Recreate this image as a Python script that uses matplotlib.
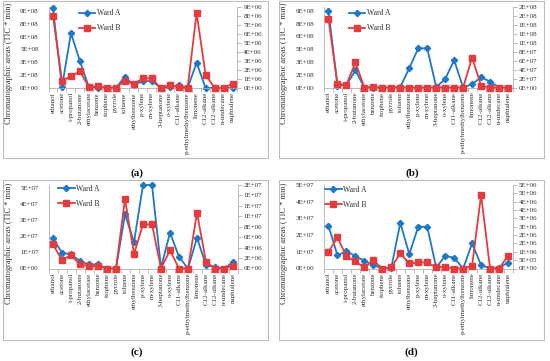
import numpy as np
import matplotlib
matplotlib.use('Agg')
import matplotlib.pyplot as plt
from matplotlib.patches import Rectangle
from matplotlib.ticker import FuncFormatter, FixedLocator

plt.rcParams['font.family'] = ['Liberation Serif', 'DejaVu Serif']

compounds = ['ethanol', 'acetone', 'i-propanol', '2-butanone', 'ethylacetate', 'benzene',
             'tiophene', 'pyrrole', 'toluene', 'ethylbenzene', 'p-xylene', 'm-xylene',
             '3-heptanone', 'o-xylene', 'C11-alkane', 'p-ethylmethylbenzene', 'limonene',
             'C12-alkane', 'C12-alkane', 'n-undecane', 'naphtalene']

# (a) Ward A on left axis, Ward B on right axis
a_ward_a = [9.3e8, 0.1e8, 6.4e8, 3.15e8, 0.1e8, 0, 0, 0, 1.3e8, 0.35e8, 0.8e8, 0.8e8,
            0.05e8, 0.1e8, 0.3e8, 0, 2.96e8, 0, 0, 0, 0]
a_ward_b = [8.0e6, 0.81e6, 1.3e6, 1.85e6, 0.1e6, 0.22e6, 0.05e6, 0.05e6, 0.78e6, 0.44e6,
            1.07e6, 1.07e6, 0, 0.33e6, 0.07e6, 0, 8.33e6, 1.48e6, 0, 0, 0.48e6]

# (b)
b_ward_a = [9.0e8, 0.2e8, 0.3e8, 2.0e8, 0, 0, 0, 0, 0.05e8, 2.27e8, 4.6e8, 4.6e8,
            0.05e8, 1.0e8, 3.2e8, 0, 0.4e8, 1.2e8, 0.7e8, 0, 0]
b_ward_b = [1.53e8, 0.75e7, 0.6e7, 5.6e7, 0, 0.05e7, 0, 0, 0, 0, 0, 0,
            0, 0, 0, 0, 6.7e7, 0.4e7, 0, 0, 0]

# (c)
c_ward_a = [1.88e7, 0.98e7, 0.88e7, 0.46e7, 0.25e7, 0.25e7, 0, 0, 3.38e7, 1.63e7, 5.2e7, 5.2e7,
            0.05e7, 2.23e7, 0.73e7, 0, 1.92e7, 0.2e7, 0.1e7, 0, 0.4e7]
c_ward_b = [4.6e6, 1.6e6, 2.56e6, 0.77e6, 0.45e6, 0.45e6, 0, 0, 13.3e6, 2.76e6, 8.46e6, 8.46e6,
            0, 3.5e6, 0, 0, 10.7e6, 1.28e6, 0, 0, 0.5e6]

# (d)
d_ward_a = [2.56e7, 0.78e7, 1.04e7, 0.74e7, 0.46e7, 0.2e7, 0, 0.05e7, 2.74e7, 0.86e7, 2.5e7, 2.5e7,
            0.06e7, 0.76e7, 0.64e7, 0, 1.5e7, 0.2e7, 0, 0.05e7, 0.34e7]
d_ward_b = [1.0e6, 1.86e6, 0.74e6, 0.42e6, 0.06e6, 0.48e6, 0, 0.08e6, 0.9e6, 0.3e6, 0.36e6, 0.36e6,
            0.06e6, 0.1e6, 0, 0, 0.16e6, 4.42e6, 0, 0, 0.76e6]

blue = '#1f78c4'
red = '#e43b3f'
grey = '#b0b0b0'
txt = '#333333'

W, H = 550, 361


def excel_fmt(v, pos):
    # mimic Excel "0E+00" number format (round half up)
    if v <= 0:
        return '0E+00'
    e = int(np.floor(np.log10(v) + 1e-9))
    r = int(np.floor(v / 10 ** e + 0.5 + 1e-9))
    if r >= 10:
        r = 1
        e += 1
    return f'{r}E{e:+03d}'


def px_rect(l, t, r, b):
    return [l / W, 1 - b / H, (r - l) / W, (b - t) / H]


def panel(fig, rect, ya, yb, lmax, lstep, ltop, rstep, rtop, leg_xy):
    ax = fig.add_axes(px_rect(*rect))
    ax2 = ax.twinx()
    x = np.arange(len(compounds))
    la, = ax.plot(x, ya, color=blue, lw=1.3, marker='D', ms=3.2, label='Ward A', clip_on=False)
    lb, = ax2.plot(x, yb, color=red, lw=1.3, marker='s', ms=3.8, label='Ward B', clip_on=False)

    ax.set_xlim(-0.5, len(compounds) - 0.5)
    ax.set_ylim(0, lmax)
    ax2.set_ylim(0, rtop)
    nl = int(round(ltop / lstep))
    nr = int(round(rtop / rstep))
    ax.yaxis.set_major_locator(FixedLocator([i * lstep for i in range(nl + 1)]))
    ax2.yaxis.set_major_locator(FixedLocator([i * rstep for i in range(nr + 1)]))
    ax.yaxis.set_major_formatter(FuncFormatter(excel_fmt))
    ax2.yaxis.set_major_formatter(FuncFormatter(excel_fmt))

    ax.set_xticks(x)
    ax.set_xticklabels(compounds, rotation=90, fontsize=5, color=txt)
    ax.set_xticks(np.arange(len(compounds) + 1) - 0.5, minor=True)
    ax.tick_params(axis='x', which='major', length=0, pad=3)
    ax.tick_params(axis='x', which='minor', length=3, color=grey, width=0.6)
    ax.tick_params(axis='y', length=0, pad=7, labelsize=5, labelcolor=txt)
    ax2.tick_params(axis='y', length=3, width=0.6, color=grey, pad=1.5,
                    labelsize=5, labelcolor=txt)

    for a in (ax, ax2):
        a.spines['top'].set_visible(False)
        a.patch.set_visible(False)
    ax2.spines['left'].set_visible(False)
    ax2.spines['bottom'].set_visible(False)
    ax.spines['right'].set_visible(False)
    ax.spines['left'].set_color(grey)
    ax.spines['bottom'].set_color(grey)
    ax2.spines['right'].set_color(grey)
    for s in ('left', 'bottom'):
        ax.spines[s].set_linewidth(0.6)
    ax2.spines['right'].set_linewidth(0.6)

    ax.set_ylabel('Chromatographic areas (TIC * min)', fontsize=6, color=txt)
    ax.yaxis.set_label_coords(-0.19, 0.3)

    ax2.legend([la, lb], ['Ward A', 'Ward B'], loc='upper left', bbox_to_anchor=leg_xy,
               frameon=False, fontsize=5.5, handlelength=2.2, handletextpad=0.2,
               borderpad=0, borderaxespad=0, labelspacing=0.9, labelcolor=txt)
    return ax, ax2


fig = plt.figure(figsize=(5.5, 3.61), dpi=100)

boxes = [(3, 1, 268, 158), (279, 1, 544, 158), (3, 180, 268, 340), (279, 180, 544, 340)]
for l, t, r, b in boxes:
    fig.patches.append(Rectangle((l / W, 1 - b / H), (r - l) / W, (b - t) / H,
                                 transform=fig.transFigure, fill=False,
                                 edgecolor='#bdbdbd', lw=0.8))

panel(fig, (48.5, 7, 237, 88), a_ward_a, a_ward_b, 9.45e8, 1.5e8, 9e8, 1e6, 9e6, (0.16, 0.97))
panel(fig, (324, 7, 512.5, 87.5), b_ward_a, b_ward_b, 9.45e8, 1.5e8, 9e8, 2e7, 1.8e8, (0.13, 0.97))
panel(fig, (48.5, 185, 237.5, 268.5), c_ward_a, c_ward_b, 5.2e7, 1e7, 5e7, 2e6, 1.6e7, (0.05, 1.0))
panel(fig, (324, 185, 512.5, 268.5), d_ward_a, d_ward_b, 5e7, 1e7, 5e7, 5e5, 5e6, (0.005, 0.99))

for lab, (cx, cy) in zip(['(a)', '(b)', '(c)', '(d)'],
                         [(137, 173), (412, 173), (137, 352), (411, 352)]):
    fig.text(cx / W, 1 - cy / H, lab, ha='center', va='center', fontsize=8,
             fontweight='bold', color='#111111')

fig.savefig('out.png', dpi=100)
